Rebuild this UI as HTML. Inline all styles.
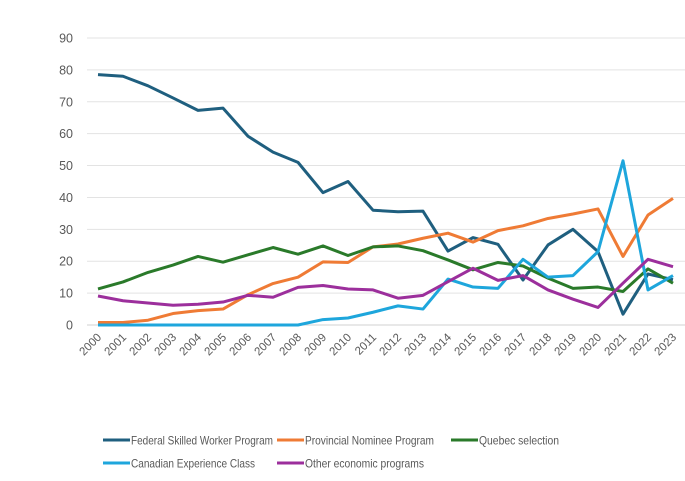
<!DOCTYPE html>
<html><head><meta charset="utf-8"><style>
body{margin:0;background:#fff;}
svg{display:block;font-family:"Liberation Sans",sans-serif;}
</style></head><body>
<svg id="chart" width="685" height="481"></svg>
<script>
const years=[2000,2001,2002,2003,2004,2005,2006,2007,2008,2009,2010,2011,2012,2013,2014,2015,2016,2017,2018,2019,2020,2021,2022,2023];
const fsw=[78.5,78,75,71.2,67.3,68,59.2,54.2,51,41.5,45,36,35.5,35.7,23.2,27.4,25.3,14.1,25.1,30,23,3.4,16,14.2];
const pnp=[0.8,0.8,1.5,3.6,4.5,5,9.5,13,15,19.8,19.6,24.5,25.4,27.2,28.8,26,29.6,31.1,33.4,34.8,36.4,21.5,34.5,39.7];
const qc=[11.3,13.5,16.5,18.8,21.5,19.7,22,24.3,22.2,24.8,21.8,24.5,24.8,23.3,20.4,17.3,19.6,18.5,14.7,11.5,11.9,10.5,17.6,13.1];
const cec=[0,0,0,0,0,0,0,0,0,1.7,2.2,4,6,5,14.4,11.9,11.5,20.6,15,15.5,23,51.5,11,15.5];
const oth=[9.1,7.6,6.9,6.2,6.5,7.2,9.3,8.7,11.8,12.4,11.3,11,8.4,9.3,13.6,17.8,14,15.5,11,8.1,5.5,13.1,20.6,18.3];
const yTicks=[0,10,20,30,40,50,60,70,80,90];
const seriesNames=["Federal Skilled Worker Program","Provincial Nominee Program","Quebec selection","Canadian Experience Class","Other economic programs"];
const seriesColors=["#1f5f7f","#ef7b35","#2a7a2a","#1ea6dc","#9c2f9c"];
const seriesData=[fsw,pnp,qc,cec,oth];

const NS="http://www.w3.org/2000/svg";
const svg=document.getElementById('chart');
const x=i=>98+i*(575/23);
const y=v=>325-v*(287/90);
function mk(t,a){const e=document.createElementNS(NS,t);for(const k in a)e.setAttribute(k,a[k]);svg.appendChild(e);return e;}

yTicks.forEach(t=>{
  const g=mk('line',{x1:87,x2:685,y1:y(t),y2:y(t),stroke:t===0?'#d0d0d0':'#e3e3e3','stroke-width':1});
  
  
  const l=mk('text',{x:73,y:y(t)+4.5,'text-anchor':'end','font-size':12.5,fill:'#595959'});
  l.textContent=t;
  
  
});
years.forEach((yr,i)=>{
  const tx=x(i)+4, ty=338;
  const l=mk('text',{x:tx,y:ty,'text-anchor':'end','font-size':11.5,fill:'#595959',transform:`rotate(-45 ${tx} ${ty})`});
  l.textContent=yr;
  
  
});
seriesData.forEach((d,s)=>{
  const p=mk('polyline',{points:d.map((v,i)=>x(i)+','+y(v)).join(' '),fill:'none',stroke:seriesColors[s],'stroke-width':3,'stroke-linejoin':'round'});
  
  
});
const lx=[103,277,451,103,277], ly=[440,440,440,463,463];
const lw=[142,129,80,124,119];
seriesNames.forEach((n,s)=>{
  const ln=mk('line',{x1:lx[s],x2:lx[s]+27,y1:ly[s],y2:ly[s],stroke:seriesColors[s],'stroke-width':3});
  
  
  const t=mk('text',{x:lx[s]+28,y:ly[s]+4.5,'font-size':12,fill:'#595959',textLength:lw[s],lengthAdjust:'spacingAndGlyphs'});
  t.textContent=n;
  
  
});
</script>
</body></html>
